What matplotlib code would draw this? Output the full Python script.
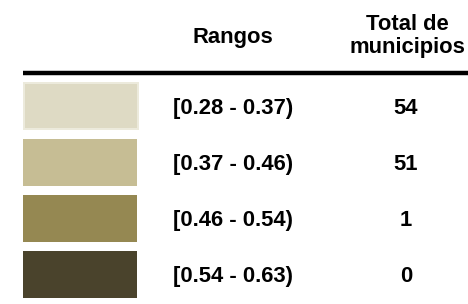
import matplotlib
matplotlib.use("Agg")
import matplotlib.pyplot as plt
from matplotlib.patches import Rectangle

# Data
ranges = ["[0.28 - 0.37)", "[0.37 - 0.46)", "[0.46 - 0.54)", "[0.54 - 0.63)"]
totals = [54, 51, 1, 0]
colors = ["#DEDAC4", "#C6BD94", "#958852", "#4A432C"]
header_range = "Rangos"
header_total = "Total de\nmunicipios"

W, H = 468, 304
fig = plt.figure(figsize=(W / 100, H / 100), dpi=100)
ax = fig.add_axes([0, 0, 1, 1])
ax.set_xlim(0, W)
ax.set_ylim(H, 0)
ax.axis("off")

plt.rcParams["font.family"] = ["Liberation Sans", "DejaVu Sans"]
fs = 15.8

# Headers
ax.text(233, 37, header_range, ha="center", va="center", fontsize=fs,
        fontweight="bold", color="black")
ax.text(407, 36, header_total, ha="center", va="center", fontsize=fs,
        fontweight="bold", color="black", linespacing=1.15)

# Thick rule
ax.plot([23, W], [73, 73], color="black", lw=3.2, solid_capstyle="butt")

# Rows
top0, step, sh = 83, 56, 47
for i, (r, t, c) in enumerate(zip(ranges, totals, colors)):
    y = top0 + i * step
    if i == 0:
        ax.add_patch(Rectangle((23, y - 1), 116, sh + 1, facecolor="#ECEADC",
                               edgecolor="none"))
        ax.add_patch(Rectangle((25, y + 1), 112, sh - 3, facecolor=c,
                               edgecolor="none"))
    else:
        ax.add_patch(Rectangle((23, y), 114, sh, facecolor=c, edgecolor="none"))
    yc = y + sh / 2 + 2
    ax.text(233, yc, r, ha="center", va="center", fontsize=fs,
            fontweight="bold", color="black")
    ax.text(406, yc, str(t), ha="center", va="center", fontsize=fs,
            fontweight="bold", color="black")

fig.savefig("out.png", dpi=100)
